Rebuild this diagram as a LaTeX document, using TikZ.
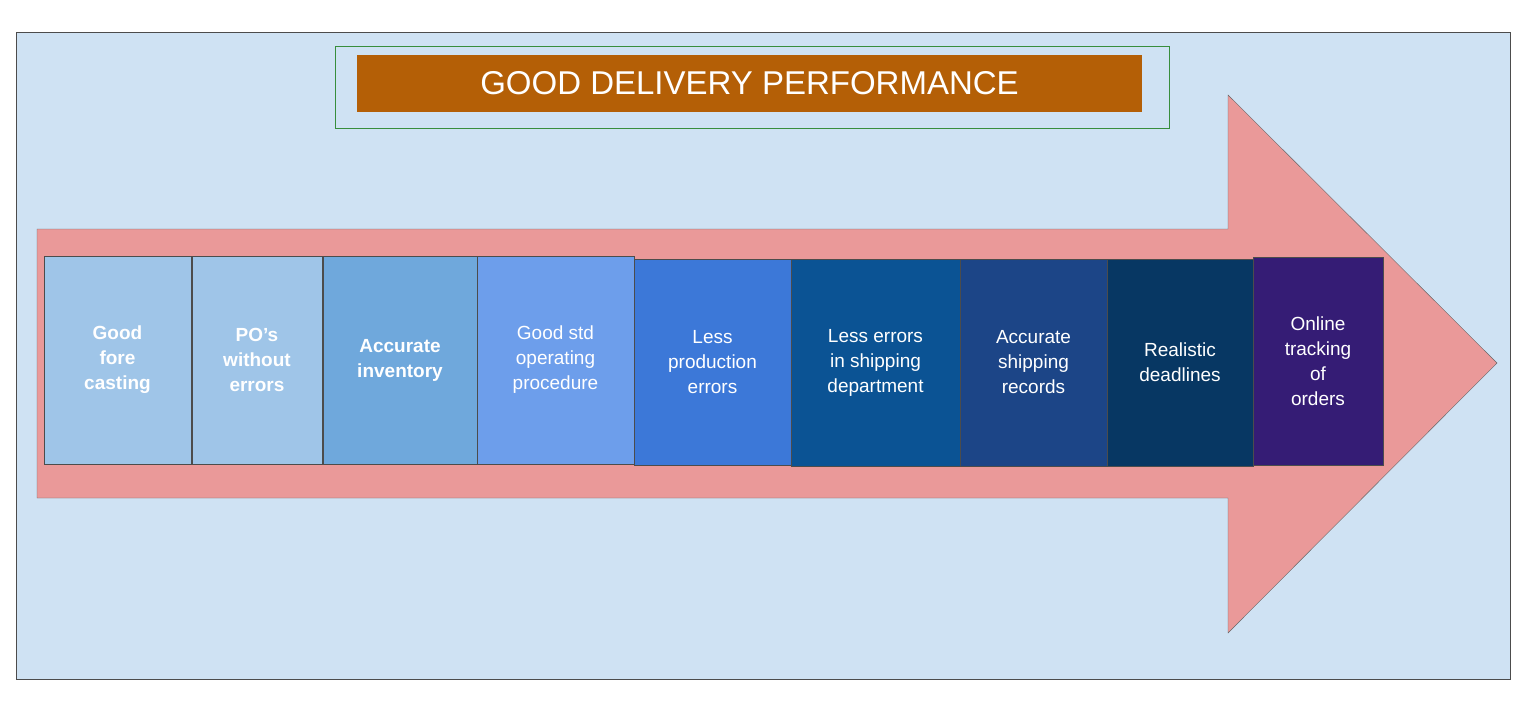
\documentclass[tikz,border=0pt]{standalone}
\usepackage{fontspec}
\setmainfont{Liberation Sans}
\begin{document}
\begin{tikzpicture}[x=1pt,y=-1pt,
 bx/.style={draw=black!70,line width=0.8pt,text=white,align=center,font=\fontsize{19}{25}\selectfont},
 bb/.style={bx,font=\bfseries\fontsize{19}{25}\selectfont}]
\useasboundingbox (0,0) rectangle (1536,723);
\fill[white] (0,0) rectangle (1536,723);
\draw[fill={rgb,255:red,207;green,226;blue,243},draw=black!70] (16,32) rectangle (1510,679);
\node[draw={rgb,255:red,56;green,142;blue,60},minimum width=834pt,minimum height=82pt,inner sep=0] (tb) at (752,87) {};
\node[fill={rgb,255:red,180;green,95;blue,6},text=white,minimum width=785pt,minimum height=57pt,inner sep=0,font=\fontsize{33}{36}\selectfont] (title) at (749.5,83.5) {GOOD DELIVERY PERFORMANCE};
\draw[fill={rgb,255:red,234;green,153;blue,153},draw=black!60] (37,229) -- (1228,229) -- (1228,95) -- (1497,363) -- (1228,633) -- (1228,498) -- (37,498) -- cycle;
\definecolor{c1}{RGB}{159,197,232}
\definecolor{c3}{RGB}{111,168,220}
\definecolor{c4}{RGB}{109,158,235}
\definecolor{c5}{RGB}{60,120,216}
\definecolor{c6}{RGB}{11,83,148}
\definecolor{c7}{RGB}{28,69,135}
\definecolor{c8}{RGB}{7,55,99}
\definecolor{c9}{RGB}{53,28,117}
\node[bb,fill=c1,minimum width=147pt,minimum height=208pt] (b1) at (117.5,360) {Good\\fore\\casting};
\node[bb,fill=c1,minimum width=130pt,minimum height=208pt] (b2) at (257,360) {PO’s\\without\\errors};
\node[bb,fill=c3,minimum width=154pt,minimum height=208pt] (b3) at (400,360) {Accurate\\inventory};
\node[bx,fill=c4,minimum width=157pt,minimum height=208pt] (b4) at (555.5,360) {Good std\\operating\\procedure};
\node[bx,fill=c5,minimum width=157pt,minimum height=206pt] (b5) at (712.5,362) {Less\\production\\errors};
\node[bx,fill=c6,minimum width=169pt,minimum height=207pt] (b6) at (875.5,362.5) {Less errors\\in shipping\\department};
\node[bx,fill=c7,minimum width=147pt,minimum height=207pt] (b7) at (1033.5,362.5) {Accurate\\shipping\\records};
\node[bx,fill=c8,minimum width=146pt,minimum height=207pt] (b8) at (1180,362.5) {Realistic\\deadlines};
\node[bx,fill=c9,minimum width=130pt,minimum height=208pt] (b9) at (1318,361) {Online\\tracking\\of\\orders};
\end{tikzpicture}
\end{document}
